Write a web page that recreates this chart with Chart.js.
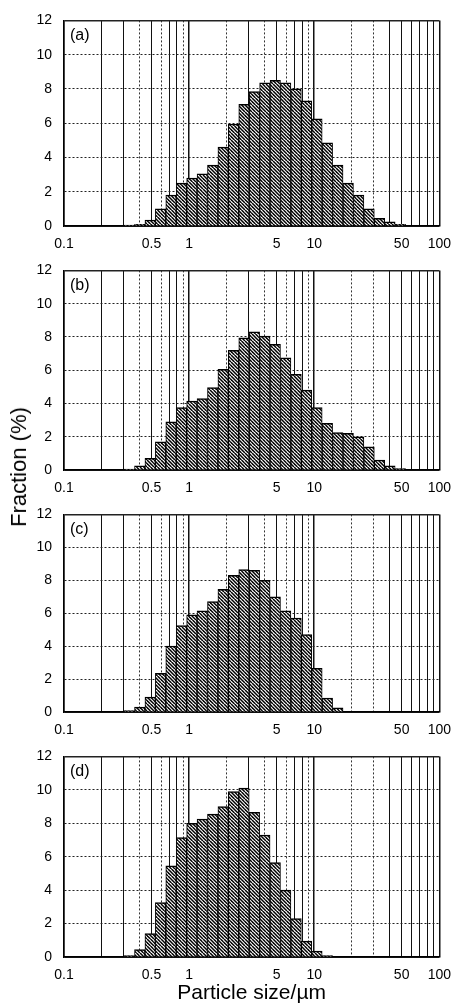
<!DOCTYPE html>
<html>
<head>
<meta charset="utf-8">
<script src="https://cdn.jsdelivr.net/npm/chart.js@4.4.1/dist/chart.umd.min.js"></script>
<style>
  body { margin: 0; background: #fff; width: 461px; height: 1006px; position: relative; overflow: hidden; }
  canvas { position: absolute; left: 0; }
  #ytitle {
    position: absolute; left: 19px; top: 467px;
    transform: translate(-50%, -50%) rotate(-90deg);
    font: 22px "Liberation Sans", Arial, sans-serif; color: #000; white-space: nowrap;
  }
</style>
</head>
<body>
<canvas id="pa" width="461" height="250" style="top:0px"></canvas>
<canvas id="pb" width="461" height="244" style="top:250px"></canvas>
<canvas id="pc" width="461" height="242" style="top:494px"></canvas>
<canvas id="pd" width="461" height="270" style="top:736px"></canvas>
<div id="ytitle">Fraction (%)</div>
<script>
// bin centres (µm), 12 bins per decade
const sizes = [0.3327, 0.4030, 0.4883, 0.5916, 0.7167, 0.8683, 1.052, 1.274, 1.544, 1.871,
  2.266, 2.746, 3.327, 4.030, 4.883, 5.916, 7.167, 8.683, 10.52, 12.74, 15.44, 18.71,
  22.66, 27.46, 33.27, 40.30, 48.83];

// fraction (%) per bin
const fracA = [0.05, 0.1, 0.35, 1.0, 1.8, 2.5, 2.8, 3.05, 3.55, 4.6, 5.95, 7.1, 7.85, 8.35,
  8.5, 8.35, 8.0, 7.3, 6.25, 4.85, 3.55, 2.5, 1.8, 1.0, 0.45, 0.25, 0.1];
const fracB = [0.05, 0.25, 0.7, 1.7, 2.9, 3.75, 4.15, 4.3, 4.95, 6.05, 7.2, 7.95, 8.3, 8.05,
  7.55, 6.75, 5.75, 4.8, 3.75, 2.8, 2.25, 2.2, 2.0, 1.4, 0.6, 0.25, 0.08];
const fracC = [0.08, 0.3, 0.9, 2.35, 4.0, 5.25, 5.9, 6.15, 6.7, 7.45, 8.3, 8.65, 8.6, 8.0,
  7.0, 6.15, 5.7, 4.7, 2.65, 0.85, 0.25];
const fracD = [0.08, 0.45, 1.4, 3.25, 5.45, 7.15, 8.0, 8.25, 8.55, 9.0, 9.9, 10.1, 8.65, 7.3,
  5.65, 4.0, 2.3, 0.95, 0.35, 0.08];

// axis ticks
const xGrid = [0.1, 0.2, 0.3, 0.4, 0.5, 0.6, 0.7, 0.8, 0.9, 1, 2, 3, 4, 5, 6, 7, 8, 9, 10,
  20, 30, 40, 50, 60, 70, 80, 90, 100];
const xLabels = [0.1, 0.5, 1, 5, 10, 50, 100];
const xDotted = [0.4, 0.6, 0.9, 2, 4, 6, 9, 20, 30];
const yTicks = [0, 2, 4, 6, 8, 10, 12];

Chart.defaults.font.family = '"Liberation Sans", Arial, sans-serif';
Chart.defaults.font.size = 14;
Chart.defaults.color = '#000';

// "\\\" hatching on white
function hatch() {
  const c = document.createElement('canvas');
  c.width = 7; c.height = 7;
  const g = c.getContext('2d');
  g.fillStyle = '#fff';
  g.fillRect(0, 0, 7, 7);
  g.strokeStyle = '#000';
  g.lineWidth = 1.5;
  for (let o = -7; o <= 7; o += 3.5) {
    g.beginPath(); g.moveTo(o, 0); g.lineTo(o + 7, 7); g.stroke();
  }
  return g.createPattern(c, 'repeat');
}

const panelTag = {
  id: 'panelTag',
  afterDraw(chart, args, opts) {
    const { ctx, chartArea } = chart;
    ctx.save();
    ctx.font = '16px "Liberation Sans", Arial, sans-serif';
    ctx.fillStyle = '#000';
    ctx.textBaseline = 'top';
    ctx.fillText(opts.text, chartArea.left + 6, chartArea.top + 7);
    ctx.restore();
  }
};

function makePanel(id, tag, values, padTop, xHeight, withTitle) {
  const ctx = document.getElementById(id).getContext('2d');
  new Chart(ctx, {
    type: 'bar',
    data: {
      datasets: [{
        data: values.map((v, i) => ({ x: sizes[i], y: v })),
        backgroundColor: hatch(),
        borderColor: '#000',
        borderWidth: { top: 1.5, left: 1, right: 1, bottom: 0 },
        barThickness: 'flex',
        barPercentage: 1,
        categoryPercentage: 1
      }]
    },
    options: {
      responsive: false,
      animation: false,
      layout: { padding: { top: padTop, right: 17, left: 0, bottom: 0 } },
      plugins: {
        legend: { display: false },
        tooltip: { enabled: false },
        panelTag: { text: tag }
      },
      scales: {
        x: {
          type: 'logarithmic',
          min: 0.1,
          max: 100,
          offset: false,
          afterBuildTicks: s => { s.ticks = xGrid.map(v => ({ value: v })); },
          afterFit: s => { s.height = xHeight; },
          grid: {
            offset: false,
            drawTicks: false,
            color: c => xDotted.includes(c.tick.value) ? '#333' : '#111',
            lineWidth: c => [0.1, 1, 10, 100].includes(c.tick.value) ? 1.5 : 1
          },
          border: {
            color: '#000', width: 1.5,
            dash: c => (c.tick && xDotted.includes(c.tick.value)) ? [2, 2] : []
          },
          ticks: {
            autoSkip: false, maxRotation: 0, padding: 10,
            callback: v => xLabels.includes(v) ? String(v) : ''
          },
          title: {
            display: withTitle, text: 'Particle size/\u00b5m',
            font: { size: 21 }, padding: { top: 0, bottom: 0 }
          }
        },
        y: {
          min: 0,
          max: 12,
          afterBuildTicks: s => { s.ticks = yTicks.map(v => ({ value: v })); },
          afterFit: s => { s.width = 64; },
          grid: {
            drawTicks: false,
            color: '#222',
            lineWidth: c => (c.tick.value === 12 ? 1.5 : 1)
          },
          border: {
            color: '#000', width: 1.5,
            dash: c => (c.tick && c.tick.value > 0 && c.tick.value < 12) ? [2, 2] : []
          },
          ticks: { padding: 12 }
        }
      }
    },
    plugins: [panelTag]
  });
}

makePanel('pa', '(a)', fracA, 18, 24, false);
makePanel('pb', '(b)', fracB, 14, 24, false);
makePanel('pc', '(c)', fracC, 13, 24, false);
makePanel('pd', '(d)', fracD, 16, 49, true);
</script>
</body>
</html>
